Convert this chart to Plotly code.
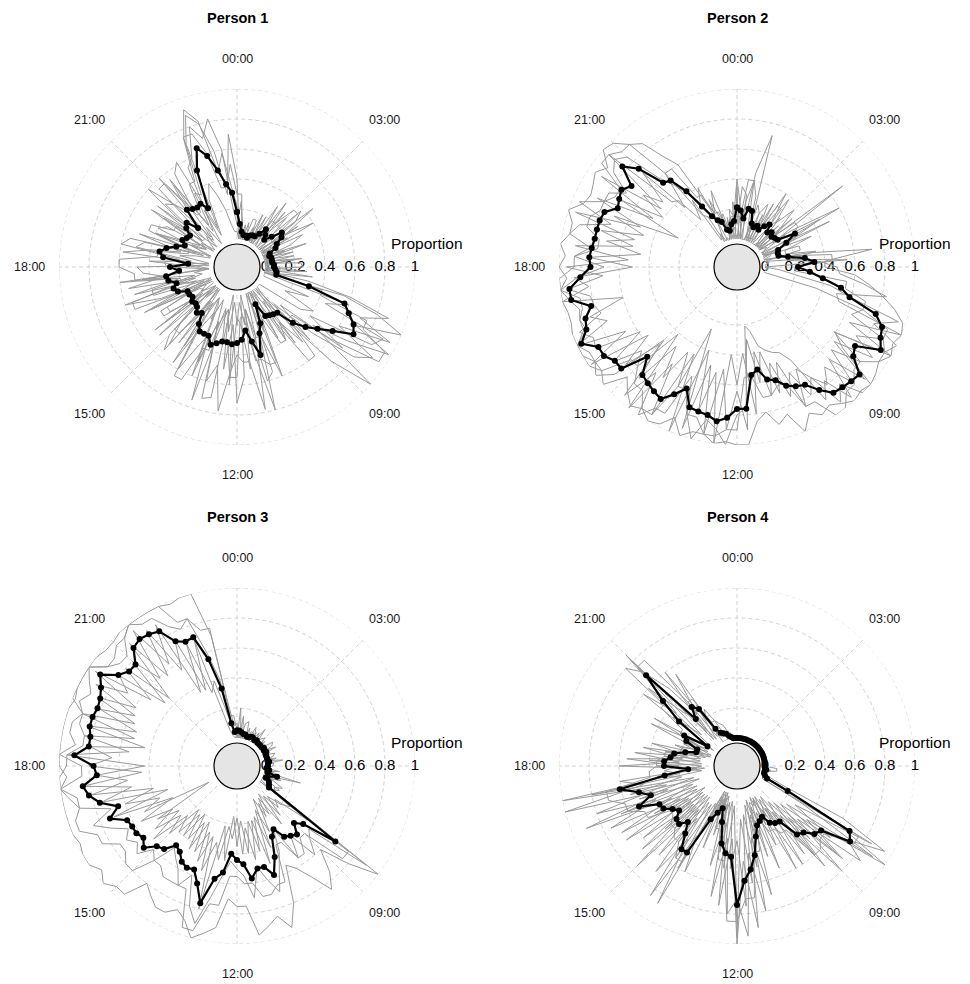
import math
import plotly.graph_objects as go

# ---------------- data (values in percent of time active) ----------------
PERSONS = ["Person 1", "Person 2", "Person 3", "Person 4"]
SLOT_HOURS = [i / 4 for i in range(96)]          # 15-minute slots over 24 h
TICK_HOURS = [0, 3, 6, 9, 12, 15, 18, 21]
TICK_LABELS = ["00:00", "03:00", "", "09:00", "12:00", "15:00", "18:00", "21:00"]
RADIAL_TICKS = [0, 0.2, 0.4, 0.6, 0.8, 1]
RADIAL_LABELS = ["0", "0.2", "0.4", "0.6", "0.8", "1"]

P1_MEAN = [18,10,5,3, 3,2,4,5, 5,8,13,10, 7,12,19,17,
           12,10,5,4, 5,5,5,6, 6,7,8,8, 31,57,62,68,
           71,58,49,42, 34,22,21,20, 19,9,22,28, 42,32,24,30,
           32,33,32,32, 34,36,31,31, 31,27,20,22, 19,18,19,17,
           18,18,24,26, 23,28,29,20, 26,14,31,34, 30,24,19,22,
           20,19,24,26, 18,32,30,29, 30,25,51,65, 58,47,37,31]
P1_DAY_A = [40,5,0,10, 0,5,0,20, 0,30,10,0, 0,0,45,20,
            40,0,0,0, 0,20,0,0, 0,0,32,0, 55,80,100,70,
            98,70,45,100, 70,20,10,40, 0,15,60,28, 80,40,0,55,
            72,20,50,10, 20,75,30,40, 60,10,45,0, 0,50,10,40,
            40,0,36,60, 10,55,30,44, 48,0,58,40, 20,50,0,40,
            35,0,48,10, 0,60,30,56, 62,10,70,88, 80,60,30,70]
P1_DAY_B = [10,25,10,0, 12,0,10,0, 20,0,35,10, 28,10,0,30,
            0,30,20,0, 20,0,0,24, 25,0,0,0, 10,60,45,90,
            85,40,70,20, 50,0,45,0, 36,0,0,55, 60,10,50,20,
            15,60,0,70, 72,20,60,15, 25,58,0,55, 45,0,50,0,
            0,50,20,10, 52,20,60,0, 28,30,20,60, 55,10,40,20,
            10,50,20,60, 40,30,55,10, 20,55,60,80, 70,82,60,20]
P1_DAY_C = [22,0,0,0, 0,0,5,0, 0,0,0,30, 0,38,30,0,
            8,10,0,15, 0,0,20,0, 0,28,0,30, 60,88,70,95,
            60,90,80,48, 16,48,28,40, 40,20,28,0, 28,78,45,45,
            40,52,78,48, 60,20,50,10, 5,45,10,50, 35,5,40,8,
            10,45,5,40, 40,10,45,5, 8,40,12,50, 45,5,40,10,
            5,40,10,45, 40,8,50,15, 38,35,74,92, 82,46,58,34]
P1_DAY_D = [5,0,8,0, 0,3,0,5, 0,2,7,0, 0,0,0,18,
            0,5,0,3, 0,4,0,0, 2,0,0,0, 0,0,33,17,
            40,32,0,0, 0,20,0,0, 0,0,0,30, 30,10,20,5,
            20,5,25,10, 15,25,5,20, 5,15,20,0, 10,0,5,10,
            5,10,0,15, 20,5,10,0, 5,15,0,20, 10,0,5,15,
            5,10,0,5, 10,5,15,0, 25,5,30,40, 30,20,10,5]
P1_DAY_E = [30,30,5,5, 0,15,15,0, 0,0,20,20, 35,35,10,10,
            20,0,0,30, 0,0,25,0, 10,10,0,0, 40,40,75,75,
            95,95,60,30, 30,60,60,20, 20,0,50,50, 45,45,15,15,
            55,55,30,30, 10,40,40,65, 65,20,20,40, 40,15,15,35,
            35,10,55,55, 20,20,50,50, 60,60,35,35, 15,15,45,45,
            30,30,10,10, 55,55,25,25, 45,45,75,75, 60,35,35,50]

P2_MEAN = [21,19,14,21, 20,12,10,12, 10,14,17,12, 14,12,13,14,
           26,18,11,10, 10,16,27,33, 22,30,39,52, 59,79,86,88,
           92,76,79,90, 89,88,87,80, 72,70,67,61, 59,51,54,76,
           76,82,85,82, 81,80,69,76, 83,81,79,77, 66,84,84,88,
           88,97,90,88, 82,94,94,86, 79,80,79,78, 78,78,77,70,
           72,74,70,83, 74,56,54,42, 28,19,15,13, 7,6,10,12]
P2_DAY_A = [40,20,0,45, 72,10,0,20, 0,40,20,0, 20,0,70,10,
            45,20,10,0, 0,30,72,40, 40,60,70,80, 90,98,100,97,
            100,95,98,100, 98,100,96,92, 95,90,100,85, 90,80,85,100,
            100,98,100,95, 95,100,90,98, 100,95,98,92, 85,100,95,100,
            100,100,100,98, 98,100,100,95, 100,96,100,95, 95,100,92,90,
            92,95,90,100, 98,90,85,70, 60,30,20,35, 10,0,20,15]
P2_DAY_B = [10,35,30,0, 0,25,20,0, 30,0,10,25, 0,30,0,20,
            0,50,0,25, 25,0,20,55, 0,10,20,45, 60,95,80,100,
            95,60,70,100, 100,85,95,70, 60,85,50,70, 40,60,30,75,
            80,100,90,85, 100,85,60,90, 90,100,70,95, 50,90,100,95,
            95,100,90,92, 90,95,100,88, 70,90,80,95, 90,70,95,80,
            80,70,85,90, 85,60,50,40, 30,40,10,0, 0,15,0,25]
P2_DAY_C = [35,0,25,40, 10,0,20,28, 10,15,38,20, 35,18,0,25,
            60,0,35,15, 15,35,15,37, 48,50,66,83, 50,53,100,65,
            100,59,85,65, 90,70,80,70, 80,60,75,49, 70,39,80,39,
            60,40,100,53, 80,40,100,46, 95,59,100,41, 75,66,85,59,
            90,88,95,77, 80,81,95,71, 95,54,90,52, 75,47,70,25,
            70,41,60,47, 70,34,60,23, 20,0,30,15, 18,5,15,0]
P2_DAY_D = [0,20,0,0, 0,12,0,0, 0,0,0,3, 0,3,0,5,
            2,0,4,0, 0,0,3,0, 0,2,0,0, 36,70,64,90,
            73,90,63,95, 68,97,77,88, 53,45,43,40, 36,25,21,90,
            64,90,50,95, 49,95,26,70, 47,70,48,80, 54,80,56,98,
            67,100,75,85, 60,100,81,90, 51,80,46,70, 52,95,51,85,
            46,90,45,95, 43,40,21,35, 2,6,0,2, 0,4,5,8]
P2_DAY_E = [15,15,40,40, 30,0,0,15, 10,30,30,0, 10,10,30,30,
            25,25,5,5, 0,20,45,45, 20,20,55,55, 70,70,90,90,
            95,95,85,85, 92,92,100,100, 85,85,65,65, 70,70,55,55,
            90,90,95,95, 85,85,70,70, 95,95,85,85, 75,75,95,95,
            100,100,92,92, 88,88,100,100, 90,90,75,75, 85,85,80,80,
            75,75,95,95, 90,90,60,60, 35,35,20,20, 10,10,15,15]

P3_MEAN = [5,5,4,3, 3,2,2,3, 3,2,3,2, 2,2,2,3,
           2,3,2,2, 2,2,3,2, 2,1,3,2, 9,3,2,5,
           6,7,64,40, 35,42,40,38, 30,34,47,58, 51,51,57,47,
           44,40,53,58, 76,64,56,57, 55,50,48,55, 57,64,60,62,
           62,63,73,65, 76,82,85,75, 77,90,81,81, 83,83,82,83,
           86,91,81,77, 77,86,88,87, 85,74,71,72, 55,34,10,4]
P3_DAY_A = [10,0,15,0, 0,8,0,10, 5,0,12,0, 0,6,0,10,
            8,0,5,0, 0,8,0,6, 5,0,10,0, 25,0,8,15,
            10,12,100,80, 60,75,85,70, 60,55,80,95, 85,90,95,75,
            75,70,90,95, 100,90,85,90, 90,85,80,95, 95,100,95,100,
            100,98,100,100, 100,100,100,95, 100,100,100,100, 100,100,98,100,
            100,100,100,98, 98,100,100,100, 100,100,98,100, 100,70,20,8]
P3_DAY_B = [0,20,0,10, 12,0,5,0, 0,8,0,5, 8,0,5,0,
            0,10,0,8, 6,0,12,0, 0,4,0,8, 10,12,0,5,
            14,10,90,45, 50,60,40,55, 30,45,55,70, 60,50,70,55,
            50,45,55,70, 90,80,60,70, 60,55,50,65, 60,70,65,70,
            65,75,85,70, 90,95,100,85, 85,100,90,95, 95,90,95,90,
            95,100,90,85, 85,95,100,95, 95,85,80,85, 60,40,10,5]
P3_DAY_C = [8,0,2,2, 0,0,3,2, 7,0,0,3, 0,2,3,2,
            0,2,3,0, 2,0,0,2, 3,0,2,0, 0,0,0,0,
            0,0,40,15, 20,8,30,7, 20,6,40,17, 40,19,40,18,
            35,15,45,22, 80,31,50,23, 45,20,40,20, 45,31,50,33,
            55,29,70,30, 75,53,85,45, 80,65,80,44, 85,52,80,57,
            90,69,80,45, 80,59,95,63, 90,36,70,33, 40,20,8,3]
P3_DAY_D = [2,0,0,0, 0,0,0,0, 0,0,0,0, 0,0,0,0,
            0,0,0,0, 0,0,0,0, 0,0,0,0, 1,0,0,0,
            0,6,26,20, 10,25,5,20, 10,30,13,50, 19,45,23,40,
            16,30,22,45, 34,55,29,45, 25,40,22,40, 28,55,30,45,
            3,50,37,60, 39,80,55,75, 43,95,54,85, 52,90,55,85,
            59,95,54,80, 45,90,57,90, 55,75,36,70, 20,6,2,0]
P3_DAY_E = [5,5,0,0, 0,0,6,6, 4,4,0,0, 0,0,3,3,
            5,5,0,0, 0,0,4,4, 3,3,0,0, 10,10,0,0,
            0,0,75,75, 45,45,55,55, 40,40,65,65, 70,70,60,60,
            55,55,75,75, 95,95,70,70, 70,70,65,65, 80,80,75,75,
            85,85,95,95, 90,90,100,100, 95,95,85,85, 90,90,100,100,
            100,100,90,90, 95,95,100,100, 100,100,85,85, 75,75,15,15]

P4_MEAN = [0,0,0,0, 0,0,0,0, 0,0,0,0, 0,0,0,0,
           0,0,0,0, 0,0,0,0, 0,0,1,0, 0,1,3,19,
           68,72,52,50, 44,42,28,27, 25,19,21,23, 30,42,51,58,
           74,42,40,34, 20,11,15,21, 48,48,38,31, 36,35,30,33,
           38,39,52,42, 49,61,30,14, 30,30,26,24, 17,10,10,19,
           22,5,30,47, 67,23,31,27, 10,6,5,4, 2,1,0,0]
P4_DAY_A = [0,0,0,0, 0,0,0,0, 0,0,0,0, 0,0,0,0,
            0,0,0,0, 0,0,0,0, 0,0,4,0, 0,4,12,60,
            95,70,85,35, 80,25,55,15, 60,5,55,10, 70,30,90,45,
            100,30,75,20, 50,4,40,4, 87,40,70,20, 75,20,60,20,
            70,30,90,30, 100,45,60,8, 60,20,50,15, 40,5,20,8,
            45,4,60,35, 86,12,60,18, 25,15,12,10, 5,4,0,0]
P4_DAY_B = [0,0,0,0, 0,0,0,0, 0,0,0,0, 0,0,0,0,
            0,0,0,0, 0,0,0,0, 0,0,0,0, 0,0,0,16,
            85,28,60,20, 50,13,30,8, 20,6,10,7, 30,8,60,17,
            95,8,50,6, 20,0,15,0, 60,12,45,9, 40,10,30,7,
            45,11,65,8, 55,19,35,3, 35,5,30,6, 15,0,12,3,
            25,0,35,13, 80,5,35,5, 10,6,5,4, 3,0,0,0]
P4_DAY_C = [0,0,0,0, 0,0,0,0, 0,0,0,0, 0,0,0,0,
            0,0,0,0, 0,0,0,0, 0,0,0,0, 0,0,0,0,
            60,100,40,75, 30,70,20,60, 15,40,15,30, 15,80,40,95,
            70,80,30,70, 8,30,5,60, 35,85,25,60, 20,65,20,70,
            25,75,40,80, 30,100,20,30, 20,55,18,45, 10,25,8,45,
            15,10,20,80, 70,50,25,55, 5,3,3,2, 0,0,0,0]
P4_DAY_D = [0,0,0,0, 0,0,0,0, 0,0,0,0, 0,0,0,0,
            0,0,0,0, 0,0,0,0, 0,0,0,0, 0,0,0,0,
            32,90,23,70, 16,60,7,25, 5,25,4,45, 5,50,14,75,
            31,50,5,40, 2,10,0,20, 10,55,12,35, 9,45,10,35,
            12,40,13,50, 11,80,5,15, 5,40,6,30, 3,10,0,20,
            3,6,5,60, 32,25,4,30, 0,0,0,0, 0,0,0,0]
P4_DAY_E = [0,0,0,0, 0,0,0,0, 0,0,0,0, 0,0,0,0,
            0,0,0,0, 0,0,0,0, 0,8,8,0, 0,0,5,20,
            75,75,55,55, 60,60,35,35, 30,30,20,20, 40,40,70,70,
            85,85,45,45, 25,25,10,10, 55,55,45,45, 40,40,35,35,
            50,50,60,60, 70,70,40,40, 35,35,30,30, 20,20,10,10,
            25,25,45,45, 75,75,35,35, 15,15,5,5, 0,0,0,0]

MEANS = [P1_MEAN, P2_MEAN, P3_MEAN, P4_MEAN]
DAYS = [[P1_DAY_A, P1_DAY_B, P1_DAY_C, P1_DAY_D, P1_DAY_E],
        [P2_DAY_A, P2_DAY_B, P2_DAY_C, P2_DAY_D, P2_DAY_E],
        [P3_DAY_A, P3_DAY_B, P3_DAY_C, P3_DAY_D, P3_DAY_E],
        [P4_DAY_A, P4_DAY_B, P4_DAY_C, P4_DAY_D, P4_DAY_E]]

# ---------------- layout geometry (page pixels) ----------------
PAGE_OFF = 8                     # default body margin of the html page
W, H = 970 - PAGE_OFF, 984 - PAGE_OFF
VISIBLE_RIGHT = 953              # keep texts left of a possible scrollbar
CENTERS = [(237, 267), (737, 267), (237, 766), (737, 766)]
R_OUT = 178          # radius of the proportion = 1 ring
HOLE_PX = 28         # radius where proportion 0 sits
DISC_PX = 23         # grey centre disc
LABEL_PX = 208       # radius of the hour-label centres
FONT = "Liberation Sans, Arial, Helvetica, sans-serif"
GRID = "#d2d2d2"
DASH = "4px,3px"


def px(x, y):
    return (x - PAGE_OFF) / W, 1 - (y - PAGE_OFF) / H


def closed(vals):
    r = [v / 100 for v in vals]
    th = [h * 15 for h in SLOT_HOURS]
    return r + r[:1], th + [360]


fig = go.Figure()
shapes, annotations = [], []
layout_polars = {}
RING_THETA = list(range(0, 361, 2))

for k, name in enumerate(PERSONS):
    pid = "polar" if k == 0 else f"polar{k + 1}"
    cx, cy = CENTERS[k]

    # outer dashed ring at proportion 1 (grid ring at the range end)
    fig.add_trace(go.Scatterpolar(
        r=[RADIAL_TICKS[-1]] * len(RING_THETA), theta=RING_THETA, mode="lines",
        line=dict(color=GRID, width=1, dash=DASH),
        subplot=pid, showlegend=False, hoverinfo="skip", cliponaxis=False))

    # radial tick labels along the 06:00 direction
    fig.add_trace(go.Scatterpolar(
        r=RADIAL_TICKS, theta=[90] * len(RADIAL_TICKS), mode="text",
        text=RADIAL_LABELS, textposition="middle center",
        textfont=dict(size=15, color="black", family=FONT),
        subplot=pid, showlegend=False, hoverinfo="skip", cliponaxis=False))

    for day in DAYS[k]:
        r, th = closed(day)
        fig.add_trace(go.Scatterpolar(
            r=r, theta=th, mode="lines",
            line=dict(color="#999999", width=1),
            subplot=pid, showlegend=False, hoverinfo="skip", cliponaxis=False))

    r, th = closed(MEANS[k])
    fig.add_trace(go.Scatterpolar(
        r=r, theta=th, mode="lines+markers",
        line=dict(color="black", width=2.2),
        marker=dict(size=6, color="black"),
        subplot=pid, showlegend=False, cliponaxis=False))

    x0, y0 = px(cx - R_OUT, cy + R_OUT)
    x1, y1 = px(cx + R_OUT, cy - R_OUT)
    layout_polars[pid] = dict(
        domain=dict(x=[x0, x1], y=[y0, y1]),
        hole=HOLE_PX / R_OUT,
        bgcolor="white",
        radialaxis=dict(range=[0, 1], tickvals=RADIAL_TICKS[1:], showticklabels=False,
                        ticks="", showline=False, angle=0,
                        gridcolor=GRID, griddash=DASH, gridwidth=1),
        angularaxis=dict(rotation=90, direction="clockwise",
                         tickvals=[h * 15 for h in TICK_HOURS], showticklabels=False,
                         ticks="", showline=False,
                         gridcolor=GRID, griddash=DASH, gridwidth=1),
    )

    # hour labels around the ring
    for h, lab in zip(TICK_HOURS, TICK_LABELS):
        if not lab:
            continue
        a = math.radians(h * 15)
        lx, ly = px(cx + LABEL_PX * math.sin(a), cy - LABEL_PX * math.cos(a))
        annotations.append(dict(text=lab, x=lx, y=ly, xref="paper", yref="paper",
                                showarrow=False, xanchor="center", yanchor="middle",
                                font=dict(size=12.5, color="#1a1a1a", family=FONT)))

    # grey centre disc
    dx0, dy0 = px(cx - DISC_PX, cy + DISC_PX)
    dx1, dy1 = px(cx + DISC_PX, cy - DISC_PX)
    shapes.append(dict(type="circle", xref="paper", yref="paper",
                       x0=dx0, y0=dy0, x1=dx1, y1=dy1,
                       fillcolor="#e5e5e5", line=dict(color="black", width=1.2),
                       layer="above"))

    # panel title
    tx, ty = px(cx, cy - 249)
    annotations.append(dict(text=f"<b>{name}</b>", x=tx, y=ty, xref="paper", yref="paper",
                            showarrow=False, xanchor="center", yanchor="middle",
                            font=dict(size=14.5, color="black", family=FONT)))
    # radial axis title (right edge kept inside the visible page)
    right_edge = min(cx + 192 + 36, VISIBLE_RIGHT)
    ax, ay = px(right_edge, cy - 24)
    annotations.append(dict(text="Proportion", x=ax, y=ay, xref="paper", yref="paper",
                            showarrow=False, xanchor="right", yanchor="middle",
                            font=dict(size=15.5, color="black", family=FONT)))

fig.update_layout(
    width=W, height=H,
    margin=dict(l=0, r=0, t=0, b=0),
    paper_bgcolor="white",
    plot_bgcolor="white",
    font=dict(family=FONT, color="black"),
    shapes=shapes,
    annotations=annotations,
    showlegend=False,
    **layout_polars,
)

fig.write_html("out.html")
